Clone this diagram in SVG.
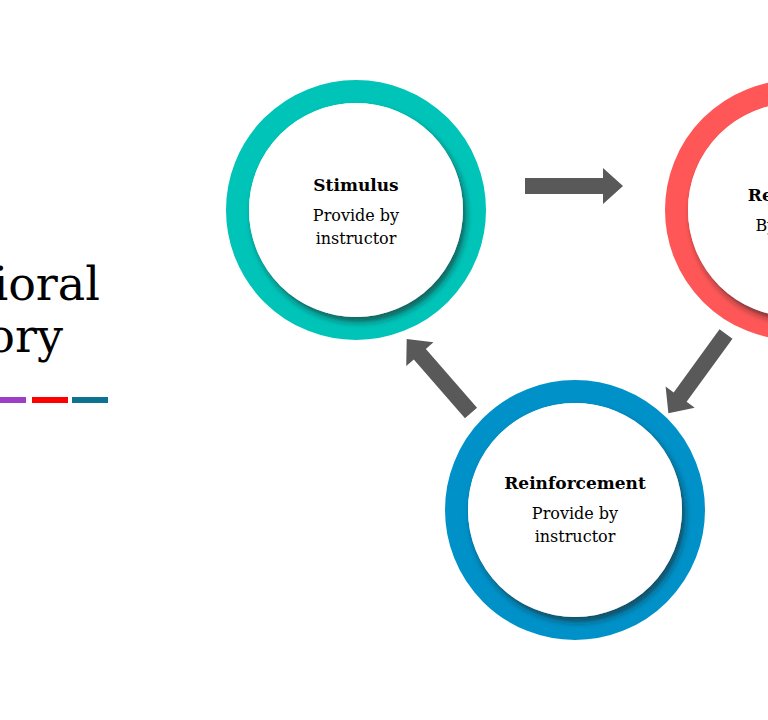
<svg xmlns="http://www.w3.org/2000/svg" width="768" height="720" viewBox="0 0 768 720">
<style>
.t{font-family:"DejaVu Serif",Georgia,serif;fill:#000;text-anchor:middle}
.h{font-weight:bold;font-size:17px}
.s{font-size:16px}
.ti{font-family:"DejaVu Serif",Georgia,serif;font-size:46px;text-anchor:end}
.arr{fill:#595959}
</style>
<defs>
<filter id="sh" x="-20%" y="-20%" width="150%" height="150%">
<feDropShadow dx="3" dy="5" stdDeviation="3" flood-color="#1a1a1a" flood-opacity="0.6"/>
</filter>
<polygon id="ar" points="0,-8 78,-8 78,-18 98,0 78,18 78,8 0,8"/>
</defs>
<rect width="768" height="720" fill="#fff"/>
<g id="title">
<text class="ti" x="100" y="300">Behavioral</text>
<text class="ti" x="63" y="352">Theory</text>
<rect x="-10" y="397" width="36" height="6" fill="#9b3fc9"/>
<rect x="32" y="397" width="36" height="6" fill="#ff0000"/>
<rect x="72" y="397" width="36" height="6" fill="#0e7393"/>
</g>
<g id="connectors">
<use href="#ar" class="arr" transform="translate(525,186)"/>
<use href="#ar" class="arr" transform="translate(726,334) rotate(126)"/>
<use href="#ar" class="arr" transform="translate(471,413) rotate(229)"/>
</g>
<g id="stimulus">
<circle cx="356" cy="210" r="118.5" fill="none" stroke="#00c4b8" stroke-width="23"/>
<circle cx="356" cy="210" r="107" fill="#fff" filter="url(#sh)"/>
<text class="t h" x="356" y="191">Stimulus</text>
<text class="t s" x="356" y="221">Provide by</text>
<text class="t s" x="356" y="244">instructor</text>
</g>
<g id="response">
<circle cx="795" cy="210" r="118.5" fill="none" stroke="#ff5757" stroke-width="23"/>
<circle cx="795" cy="210" r="107" fill="#fff" filter="url(#sh)"/>
<text class="t h" x="793" y="201">Response</text>
<text class="t s" x="798" y="231">By learner</text>
</g>
<g id="reinforcement">
<circle cx="575" cy="510" r="118.5" fill="none" stroke="#0091c8" stroke-width="23"/>
<circle cx="575" cy="510" r="107" fill="#fff" filter="url(#sh)"/>
<text class="t h" x="575" y="489">Reinforcement</text>
<text class="t s" x="575" y="519">Provide by</text>
<text class="t s" x="575" y="542">instructor</text>
</g>
</svg>
